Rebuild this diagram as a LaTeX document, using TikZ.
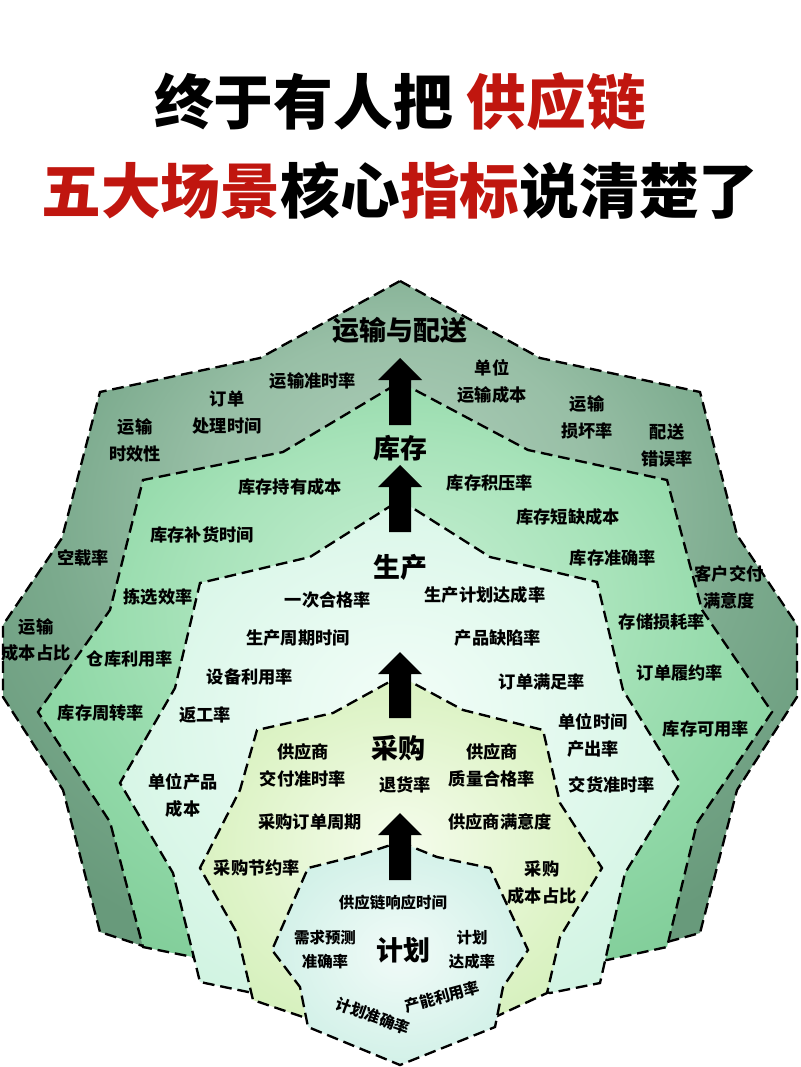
\documentclass[tikz,border=0pt]{standalone}
\usepackage{fontspec}
\newfontfamily\cjk{Noto Sans CJK SC}
\newfontfamily\cjkheavy{Noto Sans CJK SC Black}
\usetikzlibrary{calc}
\definecolor{titlered}{HTML}{C0160F}
\definecolor{laIn}{HTML}{ABCCB7}
\definecolor{laMid}{HTML}{98BFA6}
\definecolor{laOut}{HTML}{7BAA8D}
\definecolor{laFar}{HTML}{689A7B}
\definecolor{lbIn}{HTML}{C4EED1}
\definecolor{lbMid}{HTML}{A8E3BA}
\definecolor{lbOut}{HTML}{90D8A7}
\definecolor{lbFar}{HTML}{82CE9A}
\definecolor{lcIn}{HTML}{F2FDF8}
\definecolor{lcOut}{HTML}{DBF7E9}
\definecolor{lcFar}{HTML}{D0F3E1}
\definecolor{ldIn}{HTML}{F5FCEC}
\definecolor{ldOut}{HTML}{DDF3C6}
\definecolor{ldFar}{HTML}{D2EFB9}
\definecolor{leIn}{HTML}{F1FBF8}
\definecolor{leOut}{HTML}{D6F2EA}
\definecolor{leFar}{HTML}{CBEEE4}
\pgfdeclareradialshading{shLa}{\pgfpoint{0bp}{12bp}}{color(0bp)=(laIn); color(12bp)=(laMid); color(22bp)=(laOut); color(32bp)=(laFar); color(50bp)=(laFar)}
\pgfdeclareradialshading{shLb}{\pgfpoint{0bp}{8bp}}{color(0bp)=(lbIn); color(14bp)=(lbMid); color(24bp)=(lbOut); color(32bp)=(lbFar); color(50bp)=(lbFar)}
\pgfdeclareradialshading{shLc}{\pgfpoint{0bp}{4bp}}{color(0bp)=(lcIn); color(22bp)=(lcOut); color(32bp)=(lcFar); color(50bp)=(lcFar)}
\pgfdeclareradialshading{shLd}{\pgfpoint{0bp}{0bp}}{color(0bp)=(ldIn); color(22bp)=(ldOut); color(32bp)=(ldFar); color(50bp)=(ldFar)}
\pgfdeclareradialshading{shLe}{\pgfpoint{0bp}{0bp}}{color(0bp)=(leIn); color(22bp)=(leOut); color(32bp)=(leFar); color(50bp)=(leFar)}
\newcommand{\blockarrow}[2]{\fill[black] (#1) -- ++(22,22) -- ++(-11,0) -- ++(0,#2-22) -- ++(-22,0) -- ++(0,22-#2) -- ++(-11,0) -- cycle;}
\begin{document}
\begin{tikzpicture}[x=0.03cm,y=-0.03cm,
  layer/.style={draw=black, line width=2pt, dash pattern=on 10pt off 5pt, line join=miter},
  lbl/.style={font=\cjk\bfseries\fontsize{14.7}{23}\selectfont, align=center, inner sep=0pt, text=black},
  lblsm/.style={font=\cjk\bfseries\fontsize{13.2}{20.5}\selectfont, align=center, inner sep=0pt, text=black},
  ttl/.style={font=\cjkheavy\fontsize{23}{26}\selectfont, inner sep=0pt, text=black},
  head/.style={font=\cjkheavy\fontsize{51}{55}\selectfont, inner sep=0pt, text=black}]
\fill[white] (0,0) rectangle (800,1067);
\useasboundingbox (0,0) rectangle (800,1067);
% title
\node[head] (head1) at (400,102) {终于有人把 \textcolor{titlered}{供应链}};
\node[head] (head2) at (400,191) {\textcolor{titlered}{五大场景}核心\textcolor{titlered}{指标}说清楚了};
% layers
\shadedraw[layer, shading=shLa] (400,281) -- (540,358) -- (700,392) -- (737,535) -- (797,625) -- (797,697) -- (737,790) -- (700,933) -- (667,942) -- (400,880) -- (143,946) -- (100,932) -- (63,790) -- (3,697) -- (3,625) -- (62,538) -- (100,392) -- (260,358) -- cycle;
\shadedraw[layer, shading=shLb] (400,382) -- (528,450) -- (667,480) -- (702,610) -- (772,712) -- (697,823) -- (667,947) -- (607,960) -- (400,910) -- (193,957) -- (143,947) -- (110,822) -- (38,712) -- (110,610) -- (143,480) -- (283,452) -- cycle;
\shadedraw[layer, shading=shLc] (400,500) -- (490,557) -- (597,582) -- (623,690) -- (680,783) -- (625,873) -- (600,983) -- (550,993) -- (400,950) -- (253,993) -- (200,982) -- (173,873) -- (120,783) -- (175,688) -- (200,583) -- (310,557) -- cycle;
\shadedraw[layer, shading=shLd] (400,676) -- (463,710) -- (543,730) -- (560,803) -- (602,868) -- (560,937) -- (547,993) -- (493,1018) -- (400,990) -- (303,1017) -- (253,1000) -- (237,933) -- (200,868) -- (240,790) -- (257,730) -- (333,713) -- cycle;
\shadedraw[layer, shading=shLe] (400,842) -- (437,857) -- (490,868) -- (528,950) -- (503,987) -- (495,1027) -- (400,1065) -- (308,1027) -- (300,987) -- (272,950) -- (308,868) -- (360,855) -- cycle;
% arrows
\coordinate (arA) at (400,358);
\coordinate (arB) at (400,465);
\coordinate (arC) at (400,652);
\coordinate (arD) at (400,813);
\blockarrow{arA}{67}
\blockarrow{arB}{67}
\blockarrow{arC}{66}
\blockarrow{arD}{67}
% layer titles
\node[ttl] (yunshu) at (400,330) {运输与配送};
\node[ttl] (kucun) at (400,448) {库存};
\node[ttl] (shengchan) at (400,567) {生产};
\node[ttl] (caigou) at (398,748) {采购};
\node[ttl] (jihua) at (403,950) {计划};
% layer 1 labels
\node[lbl] (n11) at (313,381) {运输准时率};
\node[lbl] (n12) at (227,413) {订单\\处理时间};
\node[lbl] (n13) at (135,440) {运输\\时效性};
\node[lbl] (n14) at (83,558) {空载率};
\node[lbl] (n15) at (36,640) {运输\\成本占比};
\node[lbl] (n16) at (492,381) {单位\\运输成本};
\node[lbl] (n17) at (587,417) {运输\\损坏率};
\node[lbl] (n18) at (667,445) {配送\\错误率};
\node[lbl] (n19) at (729,587) {客户交付\\满意度};
% layer 2 labels
\node[lbl] (n21) at (290,487) {库存持有成本};
\node[lbl] (n22) at (202,535) {库存补货时间};
\node[lbl] (n23) at (158,597) {拣选效率};
\node[lbl] (n24) at (130,659) {仓库利用率};
\node[lbl] (n25) at (101,713) {库存周转率};
\node[lbl] (n26) at (490,483) {库存积压率};
\node[lbl] (n27) at (568,517) {库存短缺成本};
\node[lbl] (n28) at (613,558) {库存准确率};
\node[lbl] (n29) at (662,622) {存储损耗率};
\node[lbl] (n2a) at (680,673) {订单履约率};
\node[lbl] (n2b) at (706,729) {库存可用率};
% layer 3 labels
\node[lbl] (n31) at (328,600) {一次合格率};
\node[lbl] (n32) at (298,638) {生产周期时间};
\node[lbl] (n33) at (250,677) {设备利用率};
\node[lbl] (n34) at (205,715) {返工率};
\node[lbl] (n35) at (183,795) {单位产品\\成本};
\node[lbl] (n36) at (485,595) {生产计划达成率};
\node[lbl] (n37) at (498,638) {产品缺陷率};
\node[lbl] (n38) at (542,682) {订单满足率};
\node[lbl] (n39) at (593,735) {单位时间\\产出率};
\node[lbl] (n3a) at (612,785) {交货准时率};
% layer 4 labels
\node[lbl] (n41) at (303,765) {供应商\\交付准时率};
\node[lbl] (n42) at (405,785) {退货率};
\node[lbl] (n43) at (492,765) {供应商\\质量合格率};
\node[lbl] (n44) at (310,822) {采购订单周期};
\node[lbl] (n45) at (500,822) {供应商满意度};
\node[lbl] (n46) at (257,868) {采购节约率};
\node[lbl] (n47) at (542,883) {采购\\成本占比};
% layer 5 labels
\node[lblsm] (n51) at (393,903) {供应链响应时间};
\node[lblsm] (n52) at (325,950) {需求预测\\准确率};
\node[lblsm] (n53) at (472,950) {计划\\达成率};
\node[lblsm, rotate=15] (n54) at (442,997) {产能利用率};
\node[lblsm, rotate=-20] (n55) at (373,1016) {计划准确率};
\end{tikzpicture}
\end{document}
